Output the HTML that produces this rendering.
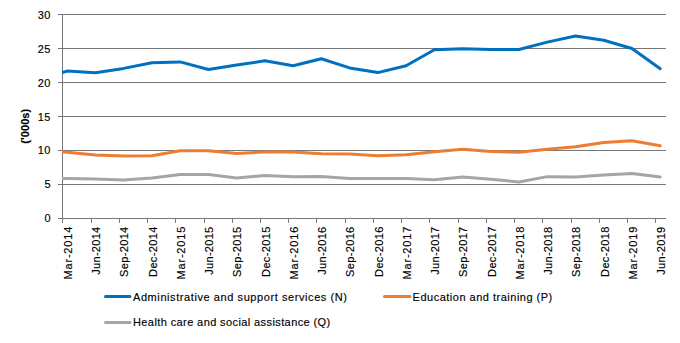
<!DOCTYPE html>
<html><head><meta charset="utf-8"><style>
html,body{margin:0;padding:0;background:#fff;}
body{width:680px;height:343px;overflow:hidden;position:relative;}
svg{position:absolute;left:0;top:0;}
text{font-family:"Liberation Sans",sans-serif;stroke:#000;stroke-width:0.15px;}
</style></head><body>
<svg width="680" height="343" viewBox="0 0 680 343">
<defs><clipPath id="pa"><rect x="62" y="0" width="620" height="230"/></clipPath></defs>
<g shape-rendering="crispEdges" fill="#777777">
<rect x="58" y="14" width="608" height="1"/>
<rect x="58" y="48" width="608" height="1"/>
<rect x="58" y="82" width="608" height="1"/>
<rect x="58" y="116" width="608" height="1"/>
<rect x="58" y="150" width="608" height="1"/>
<rect x="58" y="184" width="608" height="1"/>
<rect x="58" y="218" width="608" height="1"/>
<rect x="62" y="14" width="1" height="209"/>
<rect x="91" y="219" width="1" height="4"/>
<rect x="119" y="219" width="1" height="4"/>
<rect x="147" y="219" width="1" height="4"/>
<rect x="175" y="219" width="1" height="4"/>
<rect x="204" y="219" width="1" height="4"/>
<rect x="232" y="219" width="1" height="4"/>
<rect x="260" y="219" width="1" height="4"/>
<rect x="288" y="219" width="1" height="4"/>
<rect x="316" y="219" width="1" height="4"/>
<rect x="345" y="219" width="1" height="4"/>
<rect x="373" y="219" width="1" height="4"/>
<rect x="401" y="219" width="1" height="4"/>
<rect x="429" y="219" width="1" height="4"/>
<rect x="458" y="219" width="1" height="4"/>
<rect x="486" y="219" width="1" height="4"/>
<rect x="514" y="219" width="1" height="4"/>
<rect x="542" y="219" width="1" height="4"/>
<rect x="571" y="219" width="1" height="4"/>
<rect x="599" y="219" width="1" height="4"/>
<rect x="627" y="219" width="1" height="4"/>
<rect x="655" y="219" width="1" height="4"/>
</g>
<g fill="none" stroke-width="3" stroke-linejoin="round" stroke-linecap="round" clip-path="url(#pa)">
<path d="M38.96,178.50 L67.20,178.50 L95.44,178.90 L123.68,180.00 L151.92,177.90 L180.16,174.50 L208.40,174.50 L236.64,177.90 L264.88,175.60 L293.12,176.65 L321.36,176.50 L349.60,178.50 L377.84,178.50 L406.08,178.50 L434.32,179.70 L462.56,177.00 L490.80,179.15 L519.04,182.00 L547.28,176.65 L575.52,176.90 L603.76,174.90 L632.00,173.50 L660.24,176.90" stroke="#A5A5A5"/>
<path d="M38.96,149.90 L67.20,152.30 L95.44,155.00 L123.68,156.00 L151.92,155.65 L180.16,150.80 L208.40,150.70 L236.64,153.50 L264.88,152.00 L293.12,152.00 L321.36,153.70 L349.60,153.90 L377.84,155.70 L406.08,154.80 L434.32,151.65 L462.56,149.15 L490.80,151.50 L519.04,152.30 L547.28,149.30 L575.52,146.65 L603.76,142.60 L632.00,140.80 L660.24,145.80" stroke="#ED7D31"/>
<path d="M38.96,79.51 L67.20,71.10 L95.44,72.70 L123.68,68.40 L151.92,62.80 L180.16,61.90 L208.40,69.50 L236.64,65.10 L264.88,60.80 L293.12,65.80 L321.36,58.80 L349.60,67.90 L377.84,72.60 L406.08,65.80 L434.32,49.80 L462.56,48.80 L490.80,49.50 L519.04,49.50 L547.28,42.10 L575.52,36.00 L603.76,40.20 L632.00,48.50 L660.24,68.70" stroke="#0070C0"/>
</g>
<g font-size="11" letter-spacing="0.5" fill="#000" text-anchor="end">
<text x="51" y="18.8">30</text>
<text x="51" y="53.1">25</text>
<text x="51" y="86.8">20</text>
<text x="51" y="120.8">15</text>
<text x="51" y="154.1">10</text>
<text x="51" y="188.3">5</text>
<text x="51" y="222.0">0</text>
</g>
<text transform="translate(29.1,126.2) rotate(-90)" text-anchor="middle" font-size="11" font-weight="bold" letter-spacing="0.1" style="stroke-width:0.15px">('000s)</text>
<g font-size="11" letter-spacing="0.6" fill="#000" text-anchor="end">
<text transform="translate(72.00,225.95) rotate(-90)" letter-spacing="0.8">Mar-2014</text>
<text transform="translate(100.24,226.45) rotate(-90)" letter-spacing="0.3">Jun-2014</text>
<text transform="translate(128.48,226.40) rotate(-90)" letter-spacing="0.35">Sep-2014</text>
<text transform="translate(156.72,226.40) rotate(-90)" letter-spacing="0.35">Dec-2014</text>
<text transform="translate(184.96,225.95) rotate(-90)" letter-spacing="0.8">Mar-2015</text>
<text transform="translate(213.20,226.45) rotate(-90)" letter-spacing="0.3">Jun-2015</text>
<text transform="translate(241.44,226.40) rotate(-90)" letter-spacing="0.35">Sep-2015</text>
<text transform="translate(269.68,226.40) rotate(-90)" letter-spacing="0.35">Dec-2015</text>
<text transform="translate(297.92,225.95) rotate(-90)" letter-spacing="0.8">Mar-2016</text>
<text transform="translate(326.16,226.45) rotate(-90)" letter-spacing="0.3">Jun-2016</text>
<text transform="translate(354.40,226.40) rotate(-90)" letter-spacing="0.35">Sep-2016</text>
<text transform="translate(382.64,226.40) rotate(-90)" letter-spacing="0.35">Dec-2016</text>
<text transform="translate(410.88,225.95) rotate(-90)" letter-spacing="0.8">Mar-2017</text>
<text transform="translate(439.12,226.45) rotate(-90)" letter-spacing="0.3">Jun-2017</text>
<text transform="translate(467.36,226.40) rotate(-90)" letter-spacing="0.35">Sep-2017</text>
<text transform="translate(495.60,226.40) rotate(-90)" letter-spacing="0.35">Dec-2017</text>
<text transform="translate(523.84,225.95) rotate(-90)" letter-spacing="0.8">Mar-2018</text>
<text transform="translate(552.08,226.45) rotate(-90)" letter-spacing="0.3">Jun-2018</text>
<text transform="translate(580.32,226.40) rotate(-90)" letter-spacing="0.35">Sep-2018</text>
<text transform="translate(608.56,226.40) rotate(-90)" letter-spacing="0.35">Dec-2018</text>
<text transform="translate(636.80,225.95) rotate(-90)" letter-spacing="0.8">Mar-2019</text>
<text transform="translate(665.04,226.45) rotate(-90)" letter-spacing="0.3">Jun-2019</text>
</g>
<g stroke-width="3" stroke-linecap="round">
<line x1="105.5" y1="296.5" x2="130" y2="296.5" stroke="#0070C0"/>
<line x1="384.5" y1="296.5" x2="410" y2="296.5" stroke="#ED7D31"/>
<line x1="105.5" y1="322.5" x2="130" y2="322.5" stroke="#A5A5A5"/>
</g>
<g font-size="11" letter-spacing="0.5" fill="#000">
<text x="133" y="300.5" letter-spacing="0.58">Administrative and support services (N)</text>
<text x="412.6" y="300.5">Education and training (P)</text>
<text x="133" y="325.7" letter-spacing="0.4">Health care and social assistance (Q)</text>
</g>
</svg></body></html>
